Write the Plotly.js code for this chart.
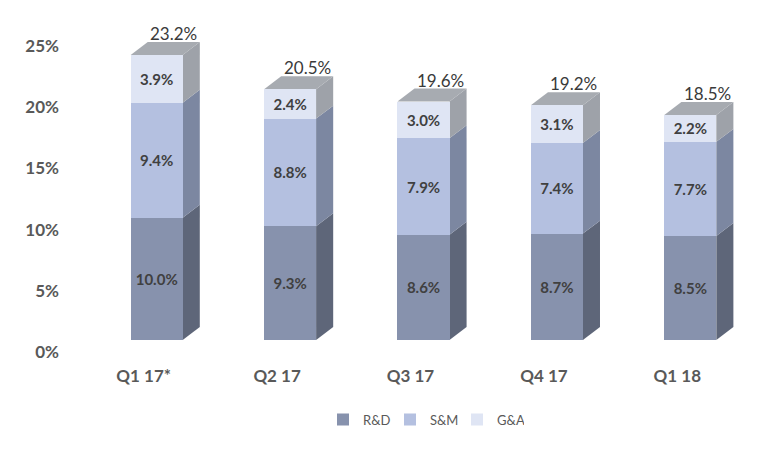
<!DOCTYPE html>
<html>
<head>
<meta charset="utf-8">
<script src="https://cdn.plot.ly/plotly-3.0.1.min.js"></script>
<style>
  html, body { margin: 0; padding: 0; background: #fff; }
  #chart { width: 759px; height: 449px; }
</style>
</head>
<body>
<div id="chart"></div>
<script>
const quarters = ['Q1 17*', 'Q2 17', 'Q3 17', 'Q4 17', 'Q1 18'];
const rnd = [10.0, 9.3, 8.6, 8.7, 8.5];
const snm = [9.4, 8.8, 7.9, 7.4, 7.7];
const gna = [3.9, 2.4, 3.0, 3.1, 2.2];
const totals = [23.2, 20.5, 19.6, 19.2, 18.5];

// fake 3d look: depth of the side / top faces, in axis units
const BAR_W = 0.39;
const DEPTH_X = 0.128;
const DEPTH_Y = 1.06;

const series = [
    {name: 'R&D', values: rnd, front: '#8792ad', side: '#5e6679'},
    {name: 'S&M', values: snm, front: '#b4c0e0', side: '#7c87a1'},
    {name: 'G&A', values: gna, front: '#dfe5f4', side: '#9ea2a9'},
];
const TOP_COLOR = '#a7abb1';
const FONT = 'Lato, "Open Sans", sans-serif';

const xs = quarters.map((q, i) => i);

const traces = series.map(s => ({
    type: 'bar',
    name: s.name,
    x: xs,
    y: s.values,
    width: BAR_W,
    marker: {color: s.front, line: {width: 0}},
    text: s.values.map(v => v.toFixed(1) + '%'),
    textposition: 'inside',
    insidetextanchor: 'middle',
    textangle: 0,
    constraintext: 'none',
    insidetextfont: {family: FONT, size: 15, color: '#404040', weight: 'bold'},
    hoverinfo: 'skip',
}));

const path = pts => 'M' + pts.map(p => p[0] + ',' + p[1]).join('L') + 'Z';

const shapes = [];
xs.forEach((x, i) => {
    const right = x + BAR_W / 2;
    const left = x - BAR_W / 2;
    let base = 0;
    series.forEach(s => {
        const top = base + s.values[i];
        shapes.push({
            type: 'path', xref: 'x', yref: 'y', layer: 'below',
            path: path([[right, base], [right, top], [right + DEPTH_X, top + DEPTH_Y], [right + DEPTH_X, base + DEPTH_Y]]),
            fillcolor: s.side, line: {width: 0},
        });
        base = top;
    });
    shapes.push({
        type: 'path', xref: 'x', yref: 'y', layer: 'below',
        path: path([[left, base], [right, base], [right + DEPTH_X, base + DEPTH_Y], [left + DEPTH_X, base + DEPTH_Y]]),
        fillcolor: TOP_COLOR, line: {width: 0},
    });
});

const annotations = xs.map((x, i) => ({
    x: x + DEPTH_X,
    y: rnd[i] + snm[i] + gna[i] + DEPTH_Y,
    xref: 'x', yref: 'y',
    text: totals[i].toFixed(1) + '%',
    showarrow: false,
    xanchor: 'center',
    yanchor: 'bottom',
    yshift: -4,
    font: {family: FONT, size: 17, color: '#3a3a3a'},
}));

const layout = {
    width: 759,
    height: 449,
    margin: {t: 22, r: 2, b: 109, l: 90},
    paper_bgcolor: '#ffffff',
    plot_bgcolor: '#ffffff',
    barmode: 'stack',
    font: {family: FONT, color: '#595959'},
    showlegend: true,
    legend: {
        orientation: 'h',
        x: 0.5, xanchor: 'center',
        y: -0.25, yanchor: 'middle',
        font: {family: FONT, size: 13, color: '#595959'},
        itemwidth: 30,
        entrywidth: 22,
        traceorder: 'normal',
    },
    xaxis: {
        range: [-0.5, 4.5],
        tickvals: xs,
        ticktext: quarters,
        ticks: '',
        showgrid: false,
        zeroline: false,
        showline: false,
        ticklabelstandoff: 24,
        ticklabelshift: -13,
        tickfont: {family: FONT, size: 17, color: '#595959', weight: 'bold'},
        fixedrange: true,
    },
    yaxis: {
        range: [0, 26],
        tickvals: [0, 5, 10, 15, 20, 25],
        ticktext: ['0%', '5%', '10%', '15%', '20%', '25%'],
        ticks: '',
        showgrid: false,
        zeroline: false,
        showline: false,
        ticklabelstandoff: 30,
        ticklabelshift: 12,
        tickfont: {family: FONT, size: 17, color: '#595959', weight: 'bold'},
        fixedrange: true,
    },
    shapes: shapes,
    annotations: annotations,
};

Plotly.newPlot('chart', traces, layout, {displayModeBar: false, staticPlot: true});
</script>
</body>
</html>
